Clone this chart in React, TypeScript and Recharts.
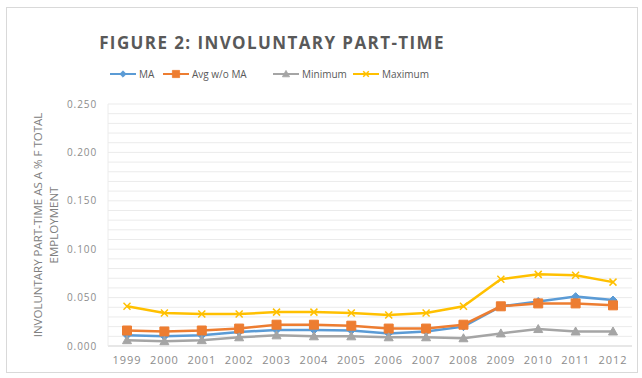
import React from 'react';
import { LineChart, Line, XAxis, YAxis, CartesianGrid } from 'recharts';

const years = ['1999', '2000', '2001', '2002', '2003', '2004', '2005', '2006', '2007', '2008', '2009', '2010', '2011', '2012'];
const maValues = [0.011, 0.010, 0.011, 0.0145, 0.0165, 0.0165, 0.016, 0.013, 0.015, 0.020, 0.041, 0.046, 0.051, 0.0475];
const avgWithoutMa = [0.016, 0.015, 0.016, 0.018, 0.022, 0.022, 0.021, 0.018, 0.018, 0.022, 0.041, 0.044, 0.044, 0.042];
const minimumValues = [0.006, 0.005, 0.006, 0.009, 0.011, 0.010, 0.010, 0.009, 0.009, 0.008, 0.013, 0.0175, 0.015, 0.015];
const maximumValues = [0.041, 0.034, 0.033, 0.033, 0.035, 0.035, 0.034, 0.032, 0.034, 0.041, 0.069, 0.074, 0.073, 0.066];
const labelledTicks = ['0.000', '0.050', '0.100', '0.150', '0.200', '0.250'];

const data = years.map((year, i) => ({
  year,
  ma: maValues[i],
  avg: avgWithoutMa[i],
  min: minimumValues[i],
  max: maximumValues[i],
}));

// a tick (and gridline) every 0.01; only the 0.05 steps get a label
const yTicks = Array.from({ length: 26 }, (_, i) => i / 100);
const yTickLabel = (v: number) => (labelledTicks.includes(v.toFixed(3)) ? v.toFixed(3) : '');

const FONT = '"Open Sans", "Liberation Sans", sans-serif';
const TEXT = '#595959';

type Shape = 'diamond' | 'square' | 'triangle' | 'x';

const markerPath = (shape: Shape, cx: number, cy: number) => {
  switch (shape) {
    case 'diamond':
      return `M${cx},${cy - 4}L${cx + 4},${cy}L${cx},${cy + 4}L${cx - 4},${cy}Z`;
    case 'square':
      return `M${cx - 4.5},${cy - 4.5}h9v9h-9Z`;
    case 'triangle':
      return `M${cx},${cy - 4.5}L${cx + 4.5},${cy + 3.5}L${cx - 4.5},${cy + 3.5}Z`;
    default:
      return '';
  }
};

const Marker = ({ cx, cy, shape, color, size = 1 }: { cx: number; cy: number; shape: Shape; color: string; size?: number }) => {
  if (cx == null || cy == null) return null;
  if (shape === 'x') {
    const r = 3.5 * size;
    return (
      <g stroke={color} strokeWidth={1.5}>
        <line x1={cx - r} y1={cy - r} x2={cx + r} y2={cy + r} />
        <line x1={cx - r} y1={cy + r} x2={cx + r} y2={cy - r} />
      </g>
    );
  }
  return (
    <path
      d={markerPath(shape, cx, cy)}
      transform={size !== 1 ? `translate(${cx} ${cy}) scale(${size}) translate(${-cx} ${-cy})` : undefined}
      fill={color}
      stroke={color}
      strokeWidth={1}
    />
  );
};

const series = [
  { key: 'ma', name: 'MA', color: '#5B9BD5', shape: 'diamond' as Shape },
  { key: 'avg', name: 'Avg w/o MA', color: '#ED7D31', shape: 'square' as Shape },
  { key: 'min', name: 'Minimum', color: '#A5A5A5', shape: 'triangle' as Shape },
  { key: 'max', name: 'Maximum', color: '#FFC000', shape: 'x' as Shape },
];

const legendX = [110, 163, 273, 353];

const LegendRow = () => (
  <svg width={642} height={20} style={{ position: 'absolute', left: 0, top: 64 }}>
    {series.map((s, i) => (
      <g key={s.key}>
        <line x1={legendX[i]} y1={10} x2={legendX[i] + 26} y2={10} stroke={s.color} strokeWidth={2} />
        <Marker cx={legendX[i] + 13} cy={10} shape={s.shape} color={s.color} size={0.8} />
        <text x={legendX[i] + 29} y={13.5} fontSize={10} fill={TEXT} fontFamily={FONT}>
          {s.name}
        </text>
      </g>
    ))}
  </svg>
);

// two-line rotated axis title beside the value axis
const YTitle = () => (
  <svg width={70} height={378} style={{ position: 'absolute', left: 0, top: 0 }}>
    <g transform="translate(47, 225) rotate(-90)">
      <text textAnchor="middle" fontSize={11.5} fill="#808080" fontFamily={FONT}>
        <tspan x={0} y={-5}>INVOLUNTARY PART-TIME AS A % F TOTAL</tspan>
        <tspan x={0} y={11}>EMPLOYMENT</tspan>
      </text>
    </g>
  </svg>
);

export default function App() {
  return (
    <div style={{ position: 'relative', width: 642, height: 378, background: '#fff', fontFamily: FONT }}>
      <style>{'body{margin:0}'}</style>
      <div
        style={{
          position: 'absolute',
          left: 6,
          top: 7,
          width: 632,
          height: 366,
          border: '1px solid #d9d9d9',
          boxSizing: 'border-box',
        }}
      />
      <div
        style={{
          position: 'absolute',
          left: 0,
          top: 31,
          width: 544,
          textAlign: 'center',
          fontSize: 17,
          fontWeight: 700,
          letterSpacing: 1.4,
          color: TEXT,
          whiteSpace: 'nowrap',
        }}
      >
        FIGURE 2: INVOLUNTARY PART-TIME
      </div>
      <LegendRow />
      <YTitle />
      <div style={{ position: 'absolute', left: 0, top: 0 }}>
        <LineChart width={642} height={378} data={data} margin={{ top: 104, right: 10, bottom: 2, left: 58 }}>
          <CartesianGrid vertical={false} stroke="#ebebeb" />
          <XAxis
            dataKey="year"
            height={30}
            padding={{ left: 19, right: 19 }}
            axisLine={{ stroke: '#d9d9d9' }}
            tickLine={false}
            tick={{ fill: '#8c8c8c', fontSize: 11, fontFamily: FONT, letterSpacing: 0.9 }}
            tickMargin={4}
            interval={0}
          />
          <YAxis
            domain={[0, 0.25]}
            ticks={yTicks}
            interval={0}
            width={50}
            axisLine={{ stroke: '#ececec' }}
            tickLine={false}
            tickSize={0}
            tickMargin={11}
            tickFormatter={yTickLabel}
            tick={{ fill: '#8c8c8c', fontSize: 10, fontFamily: FONT, letterSpacing: 0.9 }}
          />
          {series.map((s) => (
            <Line
              key={s.key}
              dataKey={s.key}
              name={s.name}
              stroke={s.color}
              strokeWidth={2.5}
              isAnimationActive={false}
              dot={(p: any) => <Marker key={`${s.key}-${p.index}`} cx={p.cx} cy={p.cy} shape={s.shape} color={s.color} />}
              activeDot={false}
            />
          ))}
        </LineChart>
      </div>
    </div>
  );
}
